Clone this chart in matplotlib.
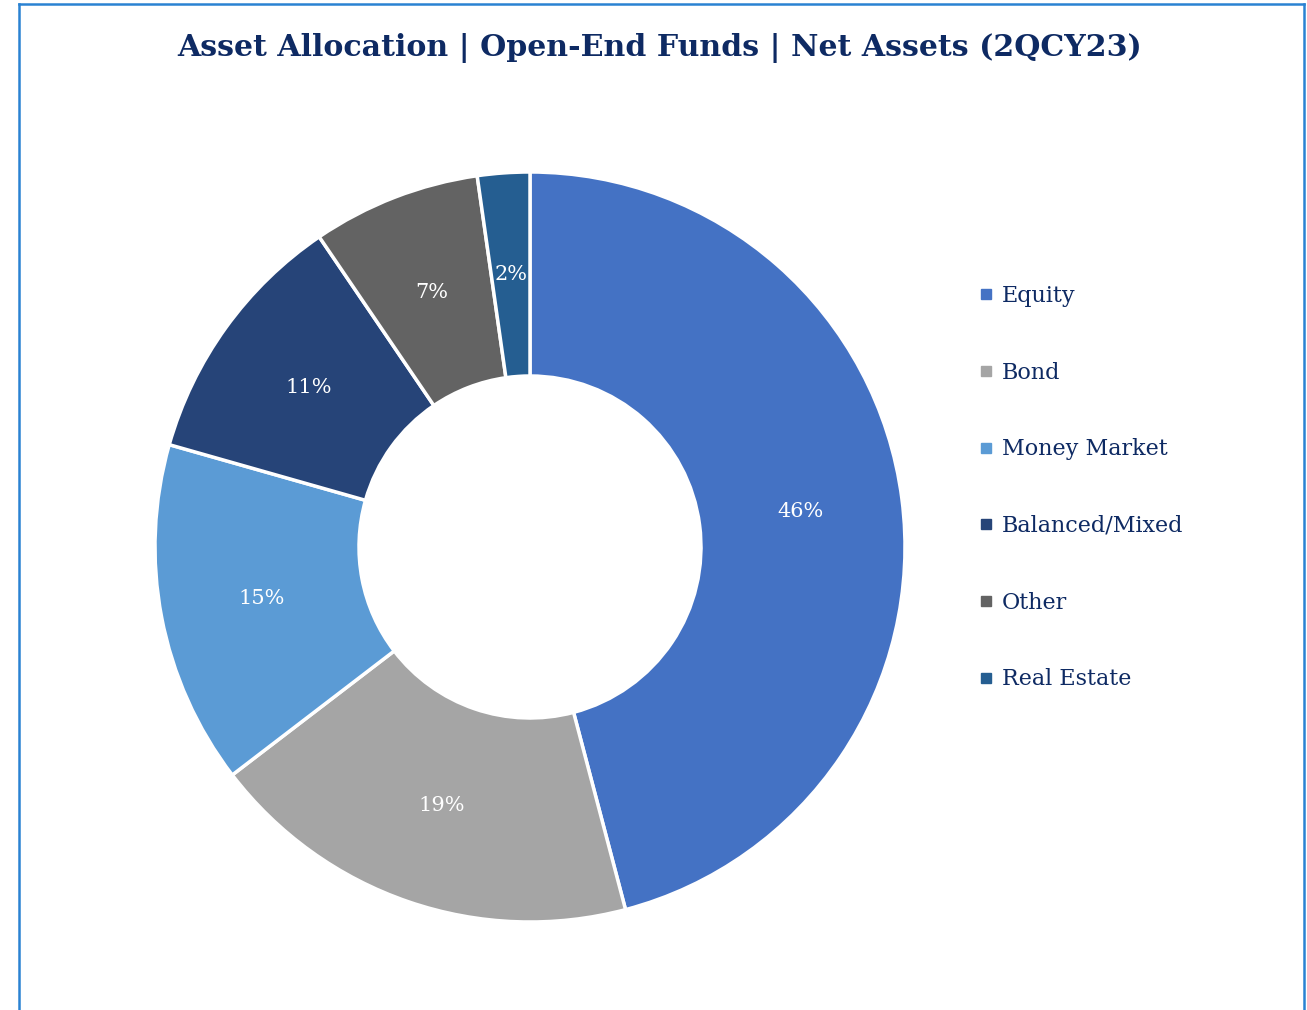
import matplotlib
matplotlib.use('Agg')
import matplotlib.pyplot as plt
from matplotlib.lines import Line2D
import numpy as np

# data (share of net assets, %)
categories = ['Equity', 'Bond', 'Money Market', 'Balanced/Mixed', 'Other', 'Real Estate']
shares = [45.9, 18.7, 14.8, 11.1, 7.25, 2.25]
labels_pct = ['46%', '19%', '15%', '11%', '7%', '2%']
colors = ['#4472C4', '#A5A5A5', '#5B9BD5', '#264478', '#636363', '#255E91']

W, H = 1307, 1010
fig = plt.figure(figsize=(W / 100, H / 100), dpi=100)
fig.patch.set_facecolor('white')

# outer frame (bottom edge is cut off in the reference)
frame_col = '#2A82D2'
fig.add_artist(Line2D([19 / W, 19 / W], [0, 1 - 4 / H], color=frame_col, lw=1.8))
fig.add_artist(Line2D([19 / W, 1304 / W], [1 - 4 / H, 1 - 4 / H], color=frame_col, lw=1.8))
fig.add_artist(Line2D([1304 / W, 1304 / W], [0, 1 - 4 / H], color=frame_col, lw=1.8))

fig.text(660 / W, 1 - 48 / H, 'Asset Allocation | Open-End Funds | Net Assets (2QCY23)',
         ha='center', va='center', fontsize=21.6, fontweight='bold',
         family='DejaVu Serif', color='#0E2A63')

cx, cy, r = 530, 547, 375
ax = fig.add_axes([(cx - r) / W, (H - cy - r) / H, 2 * r / W, 2 * r / H])
wedges, _ = ax.pie(shares, colors=colors, startangle=90, counterclock=False,
                   radius=1.0, wedgeprops=dict(width=1 - 171 / 375, edgecolor='white', linewidth=2.5))
ax.set_xlim(-1, 1)
ax.set_ylim(-1, 1)
ax.axis('off')

# percentage labels in the middle of the ring
cum = np.cumsum([0] + shares[:-1])
for s, c0, lab in zip(shares, cum, labels_pct):
    ang = np.deg2rad(90 - (c0 + s / 2) * 3.6)
    rr = 0.728
    ax.text(rr * np.cos(ang), rr * np.sin(ang), lab, ha='center', va='center',
            color='white', fontsize=15, family='DejaVu Serif')

handles = [Line2D([], [], marker='s', linestyle='none', markersize=7,
                  markerfacecolor=c, markeredgecolor=c) for c in colors]
fig.legend(handles, categories, loc='upper left', bbox_to_anchor=(975 / W, 1 - 285 / H),
           frameon=False, handletextpad=0.2, handlelength=1.0, labelspacing=2.46,
           prop=dict(family='DejaVu Serif', size=16), labelcolor='#0E2A63',
           borderaxespad=0, borderpad=0)

fig.savefig('out.png', dpi=100)
